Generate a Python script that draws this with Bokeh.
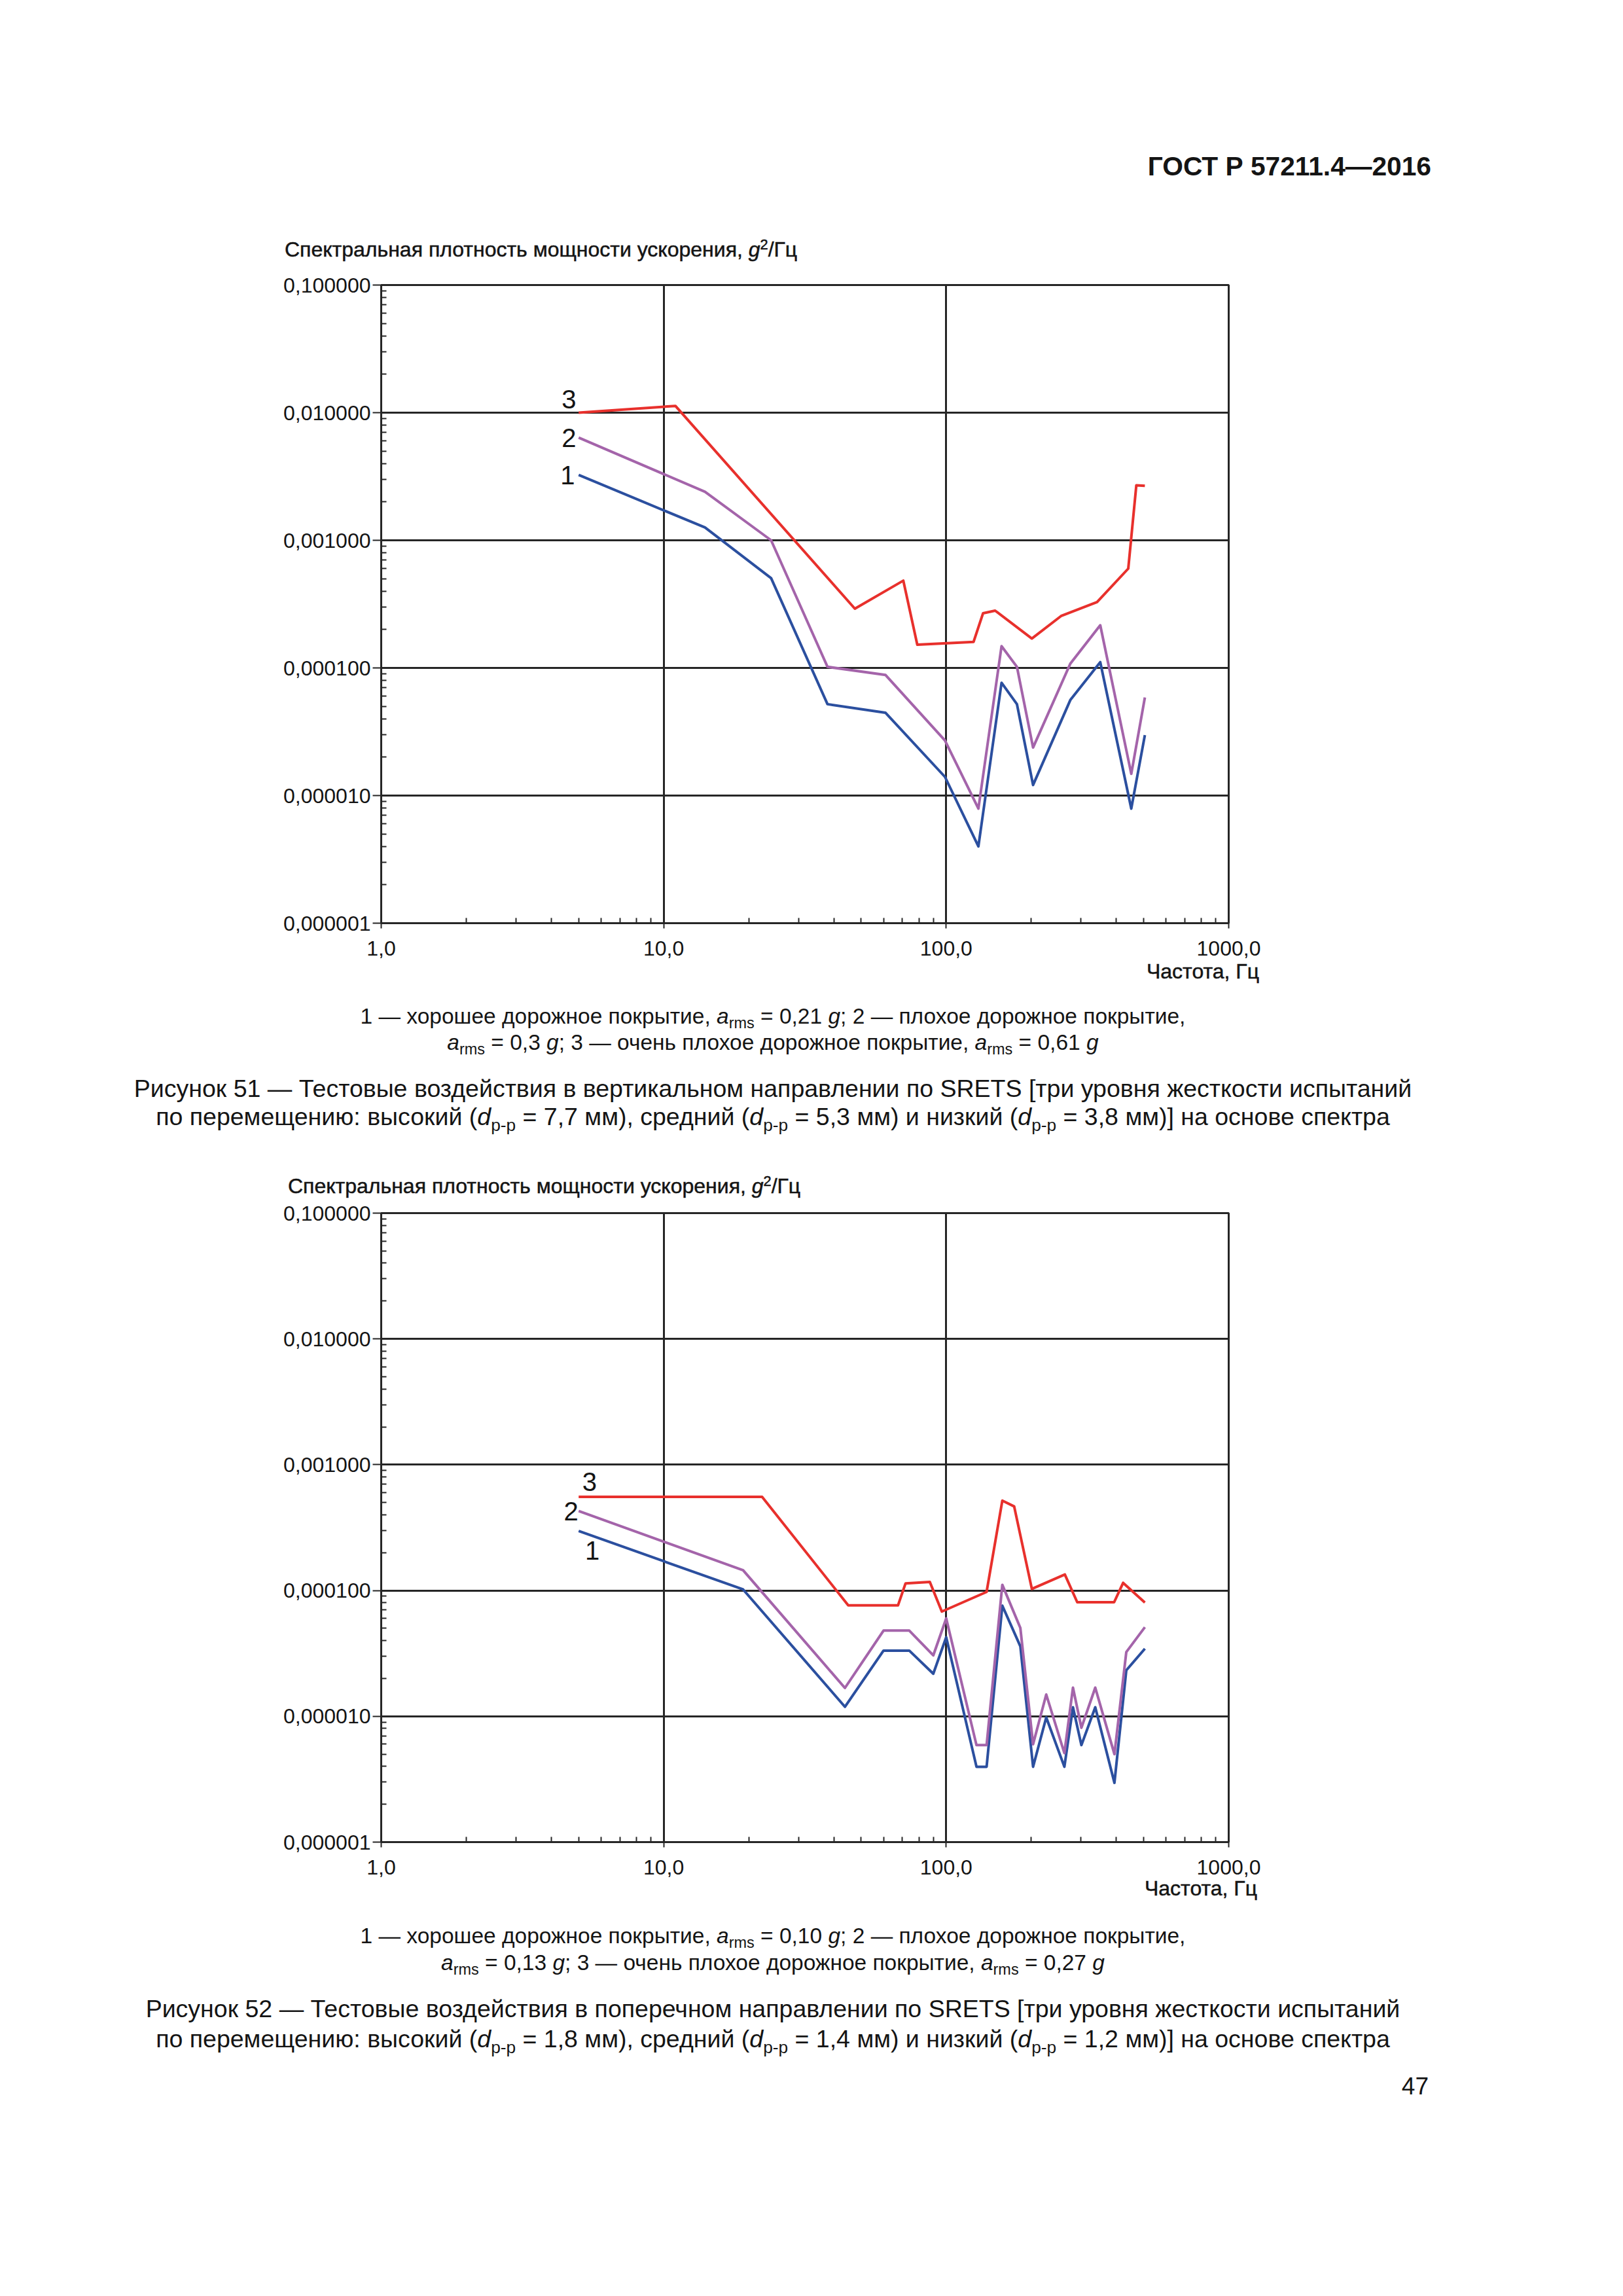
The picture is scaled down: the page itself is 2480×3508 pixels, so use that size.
from bokeh.plotting import figure
from bokeh.models import Div, FixedTicker, Label, Range1d, CustomJSTickFormatter
from bokeh.layouts import column
from bokeh.embed import file_html
from bokeh.resources import INLINE

# ---------------- data: Figure 51 (vertical) ----------------
f51_1 = [5, 14, 24, 38, 61, 99, 130, 157, 178, 203, 275, 351, 452, 505]
psd51_1 = [0.00325, 0.00126, 0.000505, 0.000052, 0.0000445, 0.0000140, 0.0000040,
           0.0000765, 0.000052, 0.0000121, 0.000056, 0.000111, 0.0000079, 0.0000298]
f51_2 = [5, 14, 24, 38, 61, 99, 130, 157, 178, 203, 275, 351, 452, 505]
psd51_2 = [0.00637, 0.00240, 0.00100, 0.000102, 0.0000880, 0.0000270, 0.0000079,
           0.000148, 0.000102, 0.0000238, 0.000108, 0.000216, 0.0000148, 0.0000587]
f51_3 = [5, 11, 47.5, 70.5, 79, 125, 135, 149, 201, 255, 342, 441, 471, 505]
psd51_3 = [0.0100, 0.0113, 0.000291, 0.000483, 0.000152, 0.000160, 0.000268,
           0.000281, 0.000170, 0.000255, 0.000328, 0.000600, 0.00270, 0.00267]

# ---------------- data: Figure 52 (lateral) ----------------
f52_1 = [5, 19.1, 43.8, 60, 74, 90, 100, 128, 139, 158, 183, 203, 226, 262, 281,
         301, 337, 394, 434, 505]
psd52_1 = [0.000297, 0.000102, 0.0000119, 0.0000333, 0.0000333, 0.0000218, 0.0000425,
           0.00000397, 0.00000397, 0.0000758, 0.0000360, 0.00000397, 0.0000098,
           0.00000397, 0.0000118, 0.0000059, 0.0000118, 0.00000296, 0.0000232, 0.0000345]
f52_2 = [5, 19.1, 43.8, 60, 74, 90, 100, 128, 139, 158, 183, 203, 226, 262, 281,
         301, 337, 394, 434, 505]
psd52_2 = [0.000428, 0.000145, 0.0000168, 0.0000480, 0.0000480, 0.0000305, 0.0000600,
           0.0000059, 0.0000059, 0.000111, 0.0000504, 0.0000060, 0.0000149, 0.0000051,
           0.0000169, 0.0000081, 0.0000169, 0.0000050, 0.0000324, 0.0000511]
f52_3 = [5, 22.3, 45, 67.5, 71.8, 87.5, 96.5, 139, 158, 174, 201, 263, 291, 393, 423, 505]
psd52_3 = [0.000555, 0.000555, 0.0000762, 0.0000762, 0.000114, 0.000117, 0.0000680,
           0.0000975, 0.000518, 0.000466, 0.000103, 0.000134, 0.0000807, 0.0000807,
           0.000115, 0.0000803]

# ---------------- axes ----------------
x_tick_values = [1, 10, 100, 1000]
x_tick_labels = ["1,0", "10,0", "100,0", "1000,0"]
y_tick_values = [1e-6, 1e-5, 1e-4, 1e-3, 1e-2, 1e-1]
y_tick_labels = ["0,000001", "0,000010", "0,000100", "0,001000", "0,010000", "0,100000"]
minor_mult = [2, 3, 4, 5, 6, 7, 8, 9]
x_minor = [d * m for d in [1, 10, 100] for m in minor_mult]
y_minor = [d * m for d in [1e-6, 1e-5, 1e-4, 1e-3, 1e-2] for m in minor_mult]

series_labels = ["1", "2", "3"]
series_colors = ["#2b4f9f", "#a464aa", "#e8302c"]

W = 2480
INK = "#141414"
GRID = "#262626"
FONT = "'Liberation Sans', Arial, sans-serif"


def tick_fmt(vals, labs):
    return CustomJSTickFormatter(args=dict(vals=vals, labs=labs), code="""
        for (let i = 0; i < vals.length; i++) {
            if (Math.abs(Math.log10(vals[i]) - Math.log10(tick)) < 1e-6) return labs[i];
        }
        return "";
    """)


def chart(height, top, left, fw, fh, xs, ys, label_pos):
    p = figure(width=W, height=height, x_axis_type="log", y_axis_type="log",
               x_range=Range1d(1, 1000), y_range=Range1d(1e-6, 0.1),
               output_backend="svg", toolbar_location=None, margin=0,
               min_border_left=left, min_border_right=W - left - fw,
               min_border_top=top, min_border_bottom=height - top - fh,
               background_fill_color="white", border_fill_color="white")
    p.outline_line_color = GRID
    p.outline_line_width = 3
    p.xaxis.ticker = FixedTicker(ticks=x_tick_values, minor_ticks=x_minor)
    p.yaxis.ticker = FixedTicker(ticks=y_tick_values, minor_ticks=y_minor)
    p.xaxis.formatter = tick_fmt(x_tick_values, x_tick_labels)
    p.yaxis.formatter = tick_fmt(y_tick_values, y_tick_labels)
    for ax in (p.xaxis, p.yaxis):
        ax.axis_line_color = GRID
        ax.axis_line_width = 3
        ax.major_tick_line_color = GRID
        ax.major_tick_line_width = 2
        ax.major_tick_in = 0
        ax.minor_tick_line_color = GRID
        ax.minor_tick_line_width = 2
        ax.minor_tick_in = 8
        ax.minor_tick_out = 0
        ax.major_label_text_font = "Liberation Sans"
        ax.major_label_text_font_size = "32px"
        ax.major_label_text_color = INK
    p.xaxis.major_tick_out = 8
    p.yaxis.major_tick_out = 13
    p.xaxis.major_label_standoff = 19
    p.yaxis.major_label_standoff = 3
    p.grid.grid_line_color = GRID
    p.grid.grid_line_width = 3
    p.grid.grid_line_alpha = 1.0
    for x, y, c in zip(xs, ys, series_colors):
        p.line(x, y, line_color=c, line_width=4, line_join="round")
    for (lx, ly), t in zip(label_pos, series_labels):
        p.add_layout(Label(x=lx, y=ly, text=t, text_font="Liberation Sans",
                           text_font_size="40px", text_align="right",
                           text_baseline="alphabetic", text_color=INK))
    return p


def line_html(html, baseline, size, left=None, right=None, center=None, bold=False, heavy=False):
    top = baseline - 0.8465 * size
    if left is not None:
        pos = f"left:{left}px;"
    elif right is not None:
        pos = f"right:{right}px;"
    else:
        pos = f"left:0px;width:{2 * center}px;text-align:center;"
    weight = "bold" if bold else "normal"
    stroke = f"-webkit-text-stroke:0.5px {INK};" if heavy else ""
    return (f'<div style="position:absolute;top:{top:.1f}px;{pos}white-space:nowrap;'
            f'font-family:{FONT};font-size:{size}px;line-height:{size}px;{stroke}'
            f'font-weight:{weight};color:{INK};">{html}</div>')


def band(lines, height):
    inner = "".join(lines)
    return Div(text=f'<div style="position:relative;width:{W}px;height:{height}px;overflow:visible;">{inner}</div>',
               width=W, height=height, margin=0, styles={"overflow": "visible"})


def sub(t):
    return f'<span style="font-size:0.7em;position:relative;top:0.32em;">{t}</span>'


def sup(t):
    return f'<span style="font-size:0.68em;position:relative;top:-0.52em;">{t}</span>'


A = f"<i>a</i>{sub('rms')}"
D = f"<i>d</i>{sub('p-p')}"
G = "<i>g</i>"
ytitle = f"Спектральная плотность мощности ускорения, {G}{sup('2')}/Гц"
xtitle = "Частота, Гц"

CX = 1181  # caption centre (page x)
LEFT = 582     # frame left edge (page x), shared by both charts
FRAME_W = 1295  # frame width, shared by both charts

# band A: page y 0..410
bandA = band([
    line_html("ГОСТ Р 57211.4—2016", 268, 40.7, right=293, bold=True),
    line_html(ytitle, 392, 32, left=435, heavy=True),
], 410)

fig1 = chart(1068, 25, LEFT, FRAME_W, 975,
             [f51_1, f51_2, f51_3], [psd51_1, psd51_2, psd51_3],
             [(4.85, 0.00322), (4.9, 0.00631), (4.9, 0.0128)])

# band B: page y 1478..1830
bandB = band([
    line_html(xtitle, 17, 32, right=556, heavy=True),
    line_html(f"1 — хорошее дорожное покрытие, {A} = 0,21 {G}; 2 — плохое дорожное покрытие,", 86, 33.5, center=CX),
    line_html(f"{A} = 0,3 {G}; 3 — очень плохое дорожное покрытие, {A} = 0,61 {G}", 126, 33.5, center=CX),
    line_html("Рисунок 51 — Тестовые воздействия в вертикальном направлении по SRETS [три уровня жесткости испытаний", 199, 37.5, center=CX),
    line_html(f"по перемещению: высокий ({D} = 7,7 мм), средний ({D} = 5,3 мм) и низкий ({D} = 3,8 мм)] на основе спектра", 242, 37.5, center=CX),
    line_html(ytitle, 345, 32, left=440, heavy=True),
], 352)

fig2 = chart(1050, 23, LEFT, FRAME_W, 961,
             [f52_1, f52_2, f52_3], [psd52_1, psd52_2, psd52_3],
             [(5.93, 0.000209), (4.99, 0.000429), (5.8, 0.000728)])

# band C: page y 2880..3500
bandC = band([
    line_html(xtitle, 16, 32, right=559, heavy=True),
    line_html(f"1 — хорошее дорожное покрытие, {A} = 0,10 {G}; 2 — плохое дорожное покрытие,", 89, 33.5, center=CX),
    line_html(f"{A} = 0,13 {G}; 3 — очень плохое дорожное покрытие, {A} = 0,27 {G}", 130, 33.5, center=CX),
    line_html("Рисунок 52 — Тестовые воздействия в поперечном направлении по SRETS [три уровня жесткости испытаний", 203, 37.5, center=CX),
    line_html(f"по перемещению: высокий ({D} = 1,8 мм), средний ({D} = 1,4 мм) и низкий ({D} = 1,2 мм)] на основе спектра", 249, 37.5, center=CX),
    line_html("47", 320, 37, right=297),
], 620)

page = column(bandA, fig1, bandB, fig2, bandC, spacing=0, margin=0)

open("out.html", "w").write(file_html(page, INLINE, title="ГОСТ Р 57211.4—2016"))
